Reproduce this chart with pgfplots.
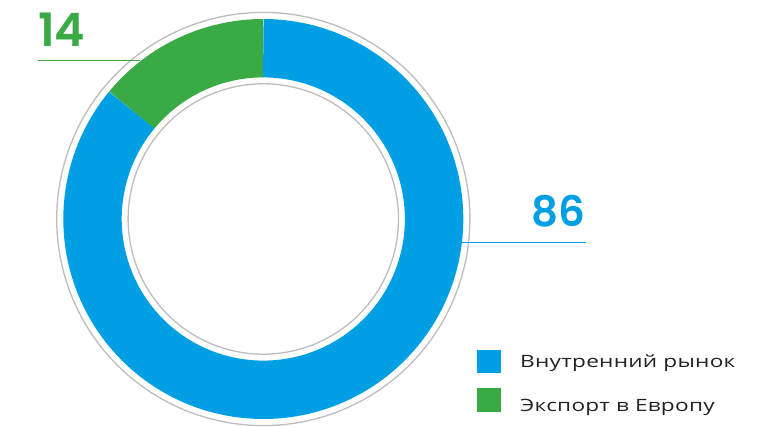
\documentclass[border=0pt]{standalone}
\usepackage{pgfplots}
\pgfplotsset{compat=1.18}
\usepackage{fontspec}
\setmainfont{Open Sans}
\newfontfamily\numfont{Poppins SemiBold}
\newfontfamily\legfont{Open Sans}[FakeStretch=1.33, LetterSpace=1.5]
\definecolor{cblue}{HTML}{009FE3}
\definecolor{cgreen}{HTML}{3AAA45}
\definecolor{cgray}{HTML}{BDBDBD}
\definecolor{ctext}{HTML}{222222}
% shares in percent
\def\vDom{86}
\def\vExp{14}
\def\cx{263.3}
\def\cy{207}
\begin{document}
\begin{tikzpicture}
\begin{axis}[
  width=766pt, height=426pt, scale only axis,
  xmin=0, xmax=766, ymin=0, ymax=426,
  axis lines=none, clip=false,
]
% ring segments (mid radius 170.8, ring width 58.4)
\addplot[draw=cgreen, line width=58.4pt, line cap=butt, domain=90:90+\vExp*3.6, samples=80, variable=\t]
  ({\cx+170.8*cos(t)},{\cy+170.8*sin(t)});
\addplot[draw=cblue, line width=58.4pt, line cap=butt, domain=90+\vExp*3.6:450, samples=300, variable=\t]
  ({\cx+170.8*cos(t)},{\cy+170.8*sin(t)});
% thin grey circles
\addplot[draw=cgray, line width=1.3pt, domain=0:360, samples=300, variable=\t]
  ({\cx+206.6*cos(t)},{\cy+206.6*sin(t)});
\addplot[draw=cgray, line width=1.3pt, domain=0:360, samples=300, variable=\t]
  ({\cx+135.2*cos(t)},{\cy+135.2*sin(t)});
% leader lines
\addplot[draw=cgreen, line width=1.3pt] coordinates {(38,365.7) (140,365.7)};
\addplot[draw=cblue, line width=1.3pt] coordinates {(462,183.3) (585.7,183.3)};
% legend squares
\addplot[fill=cblue, draw=none] coordinates {(476.7,52.7) (500.7,52.7) (500.7,76) (476.7,76)} -- cycle;
\addplot[fill=cgreen, draw=none] coordinates {(476.7,14.3) (500.7,14.3) (500.7,38) (476.7,38)} -- cycle;
% value labels
\node[anchor=base west, inner sep=0, text=cgreen, font=\numfont\fontsize{46}{46}\selectfont] at (axis cs:38,379.3) {14};
\node[anchor=base east, inner sep=0, text=cblue, font=\numfont\fontsize{42}{42}\selectfont] at (axis cs:585.5,199) {86};
% legend text
\node[anchor=base west, inner sep=0, text=ctext, font=\legfont\fontsize{17}{17}\selectfont] at (axis cs:520,58.7) {Внутренний рынок};
\node[anchor=base west, inner sep=0, text=ctext, font=\legfont\fontsize{17}{17}\selectfont] at (axis cs:520,15) {Экспорт в Европу};
\end{axis}
\pgfresetboundingbox
\path (current axis.south west) rectangle (current axis.north east);
\end{tikzpicture}
\end{document}
